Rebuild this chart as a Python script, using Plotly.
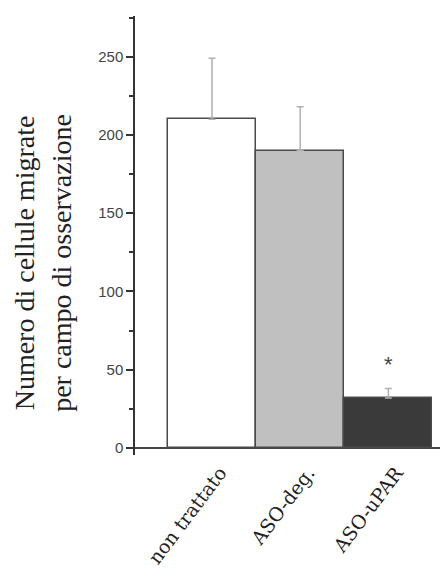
import plotly.graph_objects as go

categories = ["non trattato", "ASO-deg.", "ASO-uPAR"]
means = [210, 190, 32]
errors = [39, 28, 6]
bar_colors = ["#ffffff", "#c0c0c0", "#3a3a3a"]
y_tickvals = [0, 50, 100, 150, 200, 250]
y_title = "Numero di cellule migrate<br>per campo di osservazione"
significance = ["", "", "*"]

fig = go.Figure()
fig.add_trace(go.Bar(
    x=categories, y=means,
    marker=dict(color=bar_colors, line=dict(color="#4a4a4a", width=1.5)),
    error_y=dict(type="data", symmetric=False, array=errors,
                 arrayminus=[0] * len(errors),
                 color="#b0b0b0", thickness=1.5, width=3.5),
    width=1.0,
    showlegend=False,
))

for c, m, e, s in zip(categories, means, errors, significance):
    if s:
        fig.add_annotation(x=c, y=m + e, xref="x", yref="y", text=s,
                           showarrow=False, yanchor="bottom", yshift=9,
                           font=dict(family="Liberation Sans", size=22, color="#444"))

fig.add_annotation(x=0, y=0.4377, xref="paper", yref="paper",
                   text=y_title, textangle=-90, showarrow=False,
                   xanchor="center", yanchor="middle", xshift=-92,
                   font=dict(family="Liberation Serif", size=28, color="#222"))

fig.update_layout(
    width=440, height=575,
    margin=dict(l=127, r=1, t=8, b=128),
    paper_bgcolor="white", plot_bgcolor="white",
    bargap=0,
    xaxis=dict(
        range=[-0.873, 2.665], showline=False, showgrid=False, ticks="",
        tickangle=-53, zeroline=False, automargin=False,
        ticklabelshift=8, ticklabelstandoff=2,
        tickfont=dict(family="DejaVu Serif", size=19, color="#222"),
    ),
    yaxis=dict(
        range=[-4.5, 276], showline=True, linecolor="#333", linewidth=1.5,
        showgrid=False, zeroline=True, zerolinecolor="#444", zerolinewidth=1.5,
        tickvals=y_tickvals, ticks="outside", ticklen=7, tickwidth=1.5,
        tickcolor="#333", automargin=False,
        minor=dict(dtick=25, ticks="outside", ticklen=4, tickwidth=1.5,
                   tickcolor="#333", showgrid=False),
        tickfont=dict(family="Liberation Sans", size=15, color="#444"),
    ),
)

fig.write_html("out.html")
